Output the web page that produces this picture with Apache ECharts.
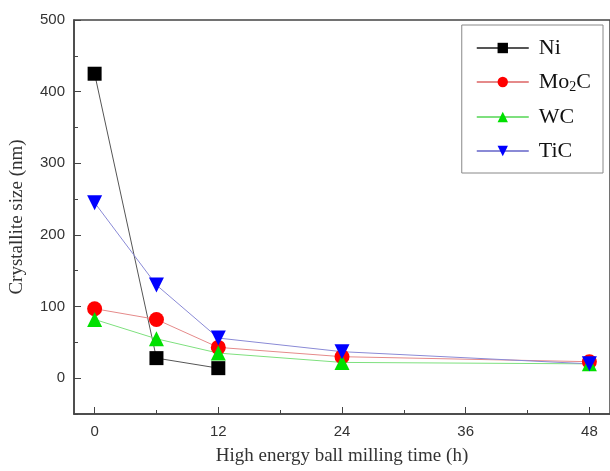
<!DOCTYPE html>
<html>
<head>
<meta charset="utf-8">
<script src="https://cdn.jsdelivr.net/npm/echarts@6/dist/echarts.min.js"></script>
<style>
  html, body { margin: 0; padding: 0; background: #fff; }
  #chart { width: 610px; height: 471px; }
</style>
</head>
<body>
<div id="chart"></div>
<script>
// milling time (h)
const timeNi = [0, 6, 12];
const timeAll = [0, 6, 12, 24, 48];
// crystallite size (nm)
const ni = [425, 28, 14];
const mo2c = [97, 82, 43, 30, 23];
const wc = [82, 55, 35, 22, 20];
const tic = [245, 130, 56, 37, 20];

const xMajor = [0, 12, 24, 36, 48];
const xMinor = [6, 18, 30, 42];
const yMajor = [0, 100, 200, 300, 400, 500];
const yMinor = [-50, 50, 150, 250, 350, 450];

const serif = '"Liberation Serif", "Times New Roman", serif';
const sans = '"Liberation Sans", Arial, sans-serif';
const axisColor = '#444';

function pairs(xs, ys) {
  return xs.map(function (x, i) { return [x, ys[i]]; });
}

function mkSeries(name, xs, ys, lineColor, markColor, symbol, size) {
  return {
    name: name,
    type: 'line',
    data: pairs(xs, ys),
    symbol: symbol,
    symbolSize: size,
    lineStyle: { color: lineColor, width: 1 },
    itemStyle: { color: markColor },
    emphasis: { disabled: true },
    z: 3
  };
}

const xBase = {
  type: 'value',
  min: -2,
  max: 50,
  splitLine: { show: false }
};
const yBase = {
  type: 'value',
  min: -50,
  max: 500,
  splitLine: { show: false }
};

const chart = echarts.init(document.getElementById('chart'));
chart.setOption({
  animation: false,
  grid: {
    left: 73,
    top: 20,
    right: -2,
    bottom: 57,
    show: true,
    borderColor: axisColor,
    borderWidth: 1.5
  },
  legend: {
    right: 7,
    top: 25,
    orient: 'vertical',
    itemWidth: 52,
    itemHeight: 13,
    itemGap: 12,
    padding: [12, 12, 11, 14],
    borderColor: '#888',
    borderWidth: 1,
    backgroundColor: '#fff',
    textStyle: {
      fontFamily: serif,
      fontSize: 22,
      color: '#111',
      padding: [0, 0, 0, 5],
      rich: {
        a: { fontFamily: serif, fontSize: 22, color: '#111', lineHeight: 24, verticalAlign: 'middle' },
        sub: { fontFamily: serif, fontSize: 14, color: '#111', lineHeight: 12, verticalAlign: 'bottom' }
      }
    },
    formatter: function (name) {
      return name === 'Mo2C' ? '{a|Mo}{sub|2}{a|C}' : '{a|' + name + '}';
    },
    data: ['Ni', 'Mo2C', 'WC', 'TiC']
  },
  xAxis: [
    Object.assign({}, xBase, {
      name: 'High energy ball milling time (h)',
      nameLocation: 'middle',
      nameGap: 33,
      nameTextStyle: { fontFamily: serif, fontSize: 19, color: '#333' },
      axisLine: { show: true, onZero: false, lineStyle: { color: axisColor, width: 1.5 } },
      axisTick: { show: true, inside: true, length: 7, customValues: xMajor, lineStyle: { color: axisColor } },
      axisLabel: { customValues: xMajor, fontFamily: sans, fontSize: 15, color: '#333', margin: 10 }
    }),
    Object.assign({}, xBase, {
      position: 'bottom',
      axisLine: { show: false, onZero: false },
      axisTick: { show: true, inside: true, length: 4, customValues: xMinor, lineStyle: { color: axisColor } },
      axisLabel: { show: false }
    })
  ],
  yAxis: [
    Object.assign({}, yBase, {
      name: 'Crystallite size (nm)',
      nameLocation: 'middle',
      nameGap: 47,
      nameTextStyle: { fontFamily: serif, fontSize: 19, color: '#333' },
      axisLine: { show: true, onZero: false, lineStyle: { color: axisColor, width: 1.5 } },
      axisTick: { show: true, inside: true, length: 7, customValues: yMajor, lineStyle: { color: axisColor } },
      axisLabel: { customValues: yMajor, fontFamily: sans, fontSize: 15, color: '#333', margin: 9 }
    }),
    Object.assign({}, yBase, {
      position: 'left',
      axisLine: { show: false, onZero: false },
      axisTick: { show: true, inside: true, length: 4, customValues: yMinor, lineStyle: { color: axisColor } },
      axisLabel: { show: false }
    })
  ],
  series: [
    mkSeries('Ni', timeNi, ni, '#555', '#000', 'rect', 14),
    mkSeries('Mo2C', timeAll, mo2c, '#e58a8a', '#ff0000', 'circle', 15),
    mkSeries('WC', timeAll, wc, '#7ee07e', '#00e000', 'triangle', 15),
    mkSeries('TiC', timeAll, tic, '#8a8ad6', '#0000ff', 'path://M0,0 L10,0 L5,9 Z', 15)
  ]
});
</script>
</body>
</html>
